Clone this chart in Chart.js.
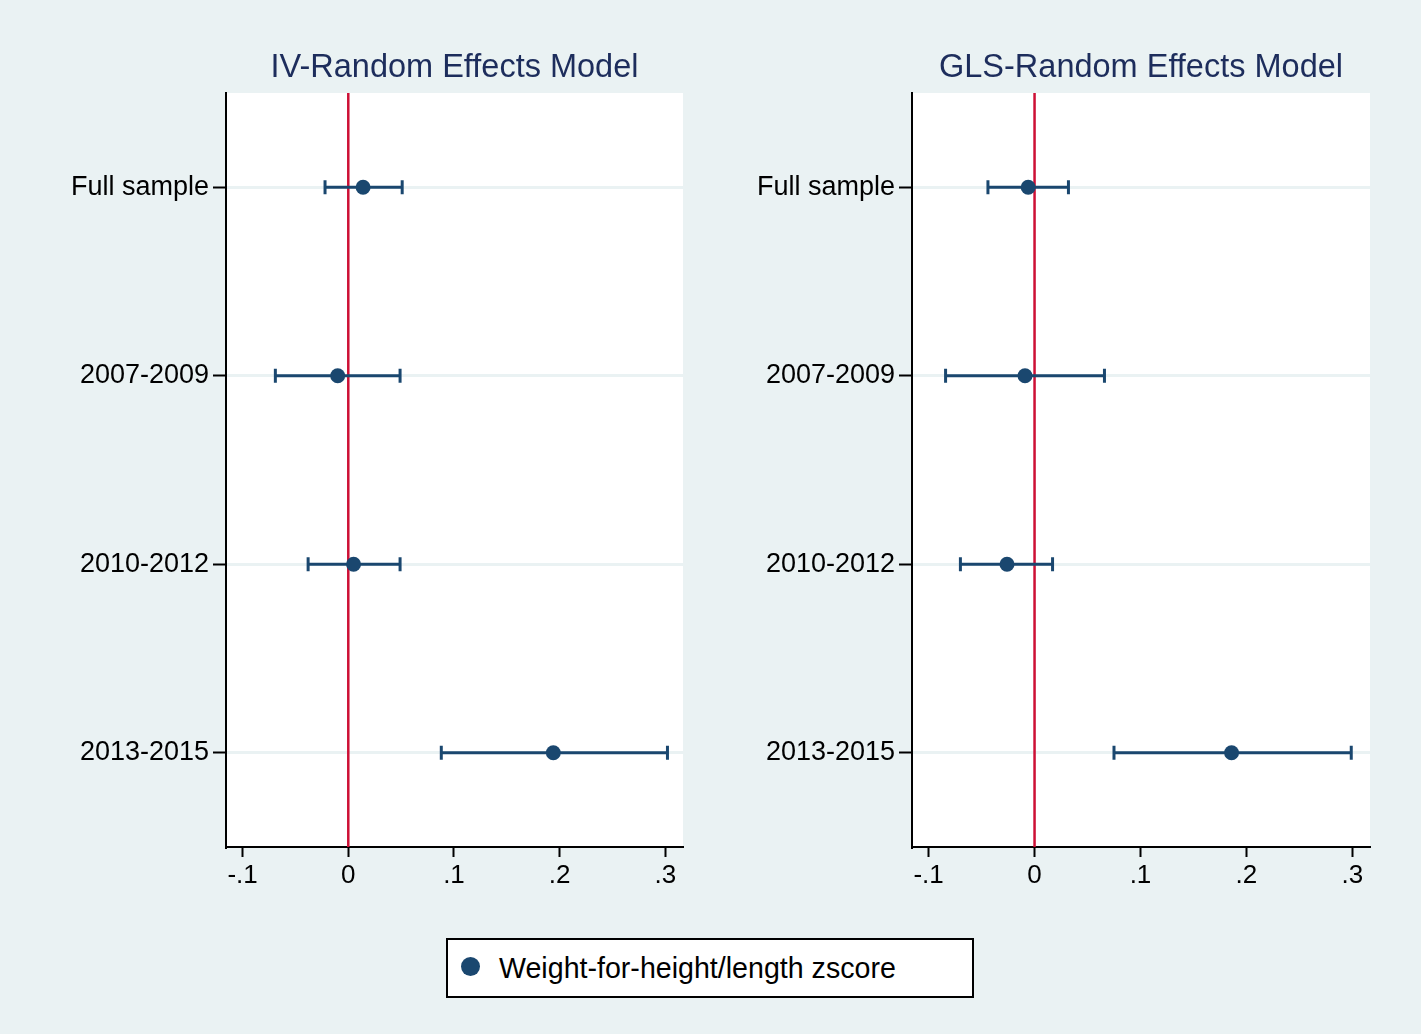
<!DOCTYPE html>
<html>
<head>
<meta charset="utf-8">
<script src="https://cdn.jsdelivr.net/npm/chart.js@4.4.1/dist/chart.umd.min.js"></script>
<style>
  html, body { margin: 0; padding: 0; }
  body { background: #EAF2F3; width: 1421px; height: 1034px; overflow: hidden; position: relative;
         font-family: "Liberation Sans", Arial, Helvetica, sans-serif; }
  .pane { position: absolute; top: 0; width: 700px; height: 900px; }
  #legend { position: absolute; left: 446px; top: 938px; width: 524px; height: 56px;
            border: 2px solid #000; background: #fff; box-sizing: content-box; }
  #legend .dot { position: absolute; left: 13px; top: 17px; width: 19px; height: 19px; border-radius: 50%; background: #1A476F; }
  #legend .txt { position: absolute; left: 51px; top: 0; line-height: 56px; font-size: 28.6px; color: #000; white-space: nowrap; }
</style>
</head>
<body>
<div class="pane" style="left:0px"><canvas id="c1" width="700" height="900"></canvas></div>
<div class="pane" style="left:700px"><canvas id="c2" width="700" height="900"></canvas></div>
<div id="legend"><div class="dot"></div><div class="txt" id="legendText"></div></div>
<script>
// ---- data ----
const categories = ["Full sample", "2007-2009", "2010-2012", "2013-2015"];
const panelTitles = ["IV-Random Effects Model", "GLS-Random Effects Model"];
const seriesName = "Weight-for-height/length zscore";

const ivCoef  = [0.014, -0.010, 0.005, 0.194];
const ivLower = [-0.022, -0.069, -0.038, 0.088];
const ivUpper = [0.051, 0.049, 0.049, 0.302];

const glsCoef  = [-0.006, -0.009, -0.026, 0.186];
const glsLower = [-0.044, -0.084, -0.070, 0.075];
const glsUpper = [0.032, 0.066, 0.017, 0.299];

const xTickValues = [-0.1, 0, 0.1, 0.2, 0.3];
const xTickLabels = ["-.1", "0", ".1", ".2", ".3"];
const referenceX = 0;

// ---- styling ----
const NAVY = "#1A476F";
const TITLE_NAVY = "#1D2D5C";
const RED = "#CD1035";
const FONT = "'Liberation Sans', Arial, Helvetica, sans-serif";

document.getElementById("legendText").textContent = seriesName;

const chartAreaBg = {
  id: "chartAreaBg",
  beforeDraw(chart) {
    const { ctx, chartArea: a } = chart;
    ctx.save();
    ctx.fillStyle = "#FFFFFF";
    ctx.fillRect(a.left, a.top, a.right - a.left, a.bottom - a.top);
    ctx.restore();
  }
};

function makePanel(canvasId, title, coef, lower, upper, yAxisWidth, rightPad) {
  const rows = categories.map((c, i) => i + 0.5);
  const datasets = [];
  // points
  datasets.push({
    type: "scatter",
    data: categories.map((c, i) => ({ x: coef[i], y: rows[i] })),
    pointRadius: 7.5,
    pointBackgroundColor: NAVY,
    pointBorderWidth: 0,
    order: 1
  });
  // confidence intervals
  categories.forEach((c, i) => {
    datasets.push({
      type: "line",
      data: [{ x: lower[i], y: rows[i] }, { x: upper[i], y: rows[i] }],
      borderColor: NAVY,
      borderWidth: 3,
      pointStyle: "line",
      pointRotation: 90,
      pointRadius: 7,
      pointBorderColor: NAVY,
      pointBorderWidth: 3,
      order: 2
    });
  });
  // reference line
  datasets.push({
    type: "line",
    data: [{ x: referenceX, y: 0 }, { x: referenceX, y: categories.length }],
    borderColor: RED,
    borderWidth: 2.5,
    pointRadius: 0,
    order: 3
  });

  return new Chart(document.getElementById(canvasId), {
    type: "scatter",
    data: { datasets },
    plugins: [chartAreaBg],
    options: {
      responsive: false,
      animation: false,
      events: [],
      layout: { padding: { left: 0, right: rightPad, top: 0, bottom: 0 } },
      plugins: {
        legend: { display: false },
        tooltip: { enabled: false },
        title: {
          display: true,
          text: title,
          color: TITLE_NAVY,
          fullSize: false,
          font: { family: FONT, size: 32.5, weight: "normal", lineHeight: 1.2 },
          padding: { top: 49, bottom: 5 }
        }
      },
      scales: {
        x: {
          type: "linear",
          min: -0.1157,
          max: 0.3167,
          afterBuildTicks: (s) => { s.ticks = xTickValues.map(v => ({ value: v })); },
          afterFit: (s) => { s.height = 53; },
          ticks: {
            color: "#000",
            font: { family: FONT, size: 26 },
            padding: 3,
            maxRotation: 0,
            autoSkip: false,
            callback: (v) => xTickLabels[xTickValues.findIndex(t => Math.abs(t - v) < 1e-9)]
          },
          grid: { drawOnChartArea: false, drawTicks: true, tickLength: 10, tickColor: "#000", tickWidth: 2 },
          border: { display: true, color: "#000", width: 2 }
        },
        y: {
          type: "linear",
          reverse: true,
          min: 0,
          max: categories.length,
          afterBuildTicks: (s) => { s.ticks = rows.map(v => ({ value: v })); },
          afterFit: (s) => { s.width = yAxisWidth; },
          ticks: {
            color: "#000",
            font: { family: FONT, size: 27 },
            padding: 4,
            autoSkip: false,
            callback: (v) => categories[Math.round(v - 0.5)]
          },
          grid: { drawOnChartArea: true, color: "#EAF2F3", lineWidth: 3, drawTicks: true, tickLength: 13, tickColor: "#000", tickWidth: 2 },
          border: { display: true, color: "#000", width: 2 }
        }
      }
    }
  });
}

makePanel("c1", panelTitles[0], ivCoef, ivLower, ivUpper, 226, 17);
makePanel("c2", panelTitles[1], glsCoef, glsLower, glsUpper, 212, 30);
</script>
</body>
</html>
